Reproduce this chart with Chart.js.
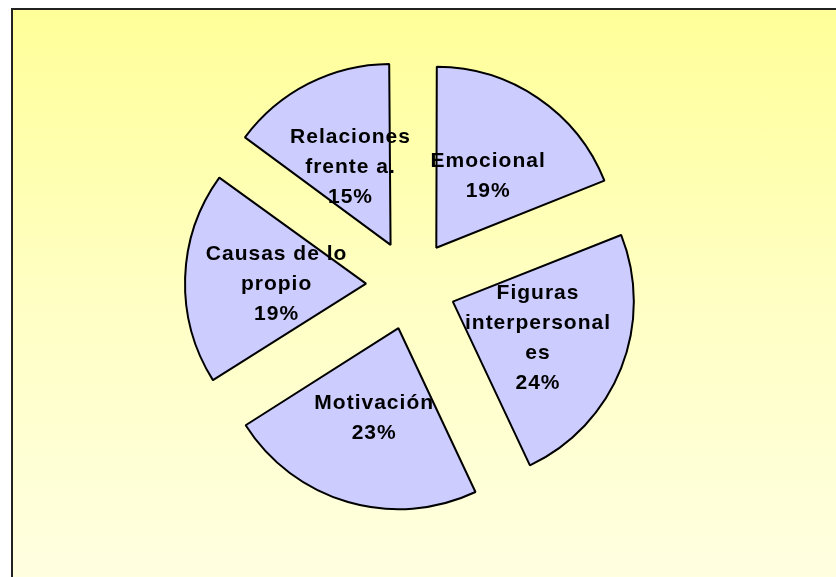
<!DOCTYPE html>
<html>
<head>
<meta charset="utf-8">
<script src="https://cdn.jsdelivr.net/npm/chart.js@4/dist/chart.umd.min.js"></script>
<style>
  html, body { margin: 0; padding: 0; width: 836px; height: 577px; overflow: hidden; background: #fff; }
  #frame {
    position: absolute; left: 11px; top: 8px; width: 840px; height: 580px;
    border-top: 2px solid #222; border-left: 2px solid #222;
    background: linear-gradient(to bottom, #ffff99 0%, #ffffc4 50%, #ffffe2 100%);
  }
  #wrap { position: absolute; left: 0; top: 0; width: 836px; height: 577px; }
</style>
</head>
<body>
<div id="frame"></div>
<div id="wrap"><canvas id="myChart" width="836" height="577"></canvas></div>
<script>
// slices, clockwise from 12 o'clock
var categories = [
  ['Emocional'],
  ['Figuras', 'interpersonal', 'es'],
  ['Motivación'],
  ['Causas de lo', 'propio'],
  ['Relaciones', 'frente a.']
];
var values = [19, 24, 23, 19, 15];

var RADIUS = 181;
var EXPLODE = 180; // arc offset option, chart.js moves the slice offset/4 px

// chart.js grows narrow exploded slices a bit, pull them back to one radius
var evenRadius = {
  id: 'evenRadius',
  afterDatasetUpdate: function(chart, args) {
    var meta = chart.getDatasetMeta(args.index);
    meta.data.forEach(function(arc) {
      var fix = 1 - Math.sin(Math.min(Math.PI, arc.circumference));
      arc.outerRadius = RADIUS - (EXPLODE / 4) * fix;
    });
  }
};

// wrapped category name + percent inside each slice
var sliceLabels = {
  id: 'sliceLabels',
  afterDatasetsDraw: function(chart) {
    var ctx = chart.ctx;
    var meta = chart.getDatasetMeta(0);
    var data = chart.data.datasets[0].data;
    var total = data.reduce(function(a, b) { return a + b; }, 0);
    ctx.save();
    ctx.font = 'bold 21px "Liberation Sans", Arial, sans-serif';
    ctx.letterSpacing = '1px';
    ctx.fillStyle = '#000';
    ctx.textAlign = 'center';
    ctx.textBaseline = 'middle';
    meta.data.forEach(function(arc, i) {
      var mid = (arc.startAngle + arc.endAngle) / 2;
      var dist = EXPLODE / 4 + RADIUS / 2;
      var x = arc.x + Math.cos(mid) * dist;
      var y = arc.y + Math.sin(mid) * dist;
      var lines = chart.data.labels[i].concat([Math.round(data[i] / total * 100) + '%']);
      var lh = 30;
      lines.forEach(function(t, j) {
        ctx.fillText(t, x + 1, y + 3 + (j - (lines.length - 1) / 2) * lh);
      });
    });
    ctx.restore();
  }
};

var ctx = document.getElementById('myChart').getContext('2d');
var myChart = new Chart(ctx, {
  type: 'pie',
  data: {
    labels: categories,
    datasets: [{
      data: values,
      backgroundColor: '#ccccff',
      borderColor: '#000',
      borderWidth: 2,
      offset: EXPLODE
    }]
  },
  options: {
    responsive: false,
    animation: false,
    radius: RADIUS,
    layout: { padding: { left: 0, right: 14, top: 0, bottom: 7 } },
    plugins: {
      legend: { display: false },
      tooltip: { enabled: false }
    }
  },
  plugins: [evenRadius, sliceLabels]
});
</script>
</body>
</html>
